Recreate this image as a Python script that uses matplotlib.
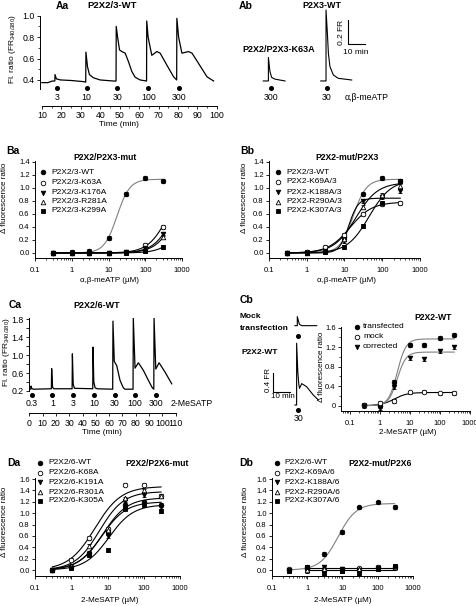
import numpy as np
import matplotlib
matplotlib.use('Agg')
import matplotlib.pyplot as plt
from matplotlib.lines import Line2D
from matplotlib.ticker import LogLocator, NullFormatter, MultipleLocator, FixedLocator

plt.rcParams['font.family'] = ['Liberation Sans', 'DejaVu Sans']
plt.rcParams['mathtext.fontset'] = 'custom'
plt.rcParams['mathtext.rm'] = 'Liberation Sans'
plt.rcParams['axes.linewidth'] = 0.7

# ---------------- data ----------------
# Aa trace: P2X2/3-WT, time (min) vs fluorescence ratio
aa_t = [9.9, 13, 15.3, 16.6, 16.7, 17.4, 19.5, 25, 31, 32.5, 32.6, 33.4, 34.4, 36.5, 39.9, 46.8,
        48.1, 48.2, 48.9, 49.9, 51.1, 52.8, 54.5, 56.2, 57.9, 60.5, 63.8,
        63.9, 64.6, 66.5, 69.1, 70.8, 74.2, 77.7, 79.3,
        79.4, 80.3, 82.0, 85.4, 87.2, 91.4, 94.9, 98.3]
aa_v = [0.375, 0.375, 0.39, 0.39, 0.45, 0.41, 0.40, 0.395, 0.385, 0.38, 0.66, 0.525, 0.45, 0.42, 0.40, 0.39,
        0.39, 0.90, 0.80, 0.68, 0.665, 0.65, 0.57, 0.48, 0.426, 0.40, 0.39,
        0.95, 0.80, 0.63, 0.665, 0.65, 0.54, 0.43, 0.40,
        0.975, 0.80, 0.65, 0.665, 0.65, 0.53, 0.43, 0.39]
aa_app_t = [17.6, 33.0, 48.7, 64.7, 80.5]
aa_app_lbl = ['3', '10', '30', '100', '300']

# Ab traces (min, FR)
ab_k63a_t = [13.7, 16.7, 16.7, 17.6, 18.6, 20.6, 26.5]
ab_k63a_v = [0.38, 0.38, 0.576, 0.46, 0.41, 0.395, 0.38]
ab_wt_t = [47.5, 50.6, 50.6, 51.4, 52.0, 52.9, 54.9, 57.8, 65.7]
ab_wt_v = [0.38, 0.38, 0.971, 0.777, 0.61, 0.50, 0.43, 0.402, 0.388]
ab_app_t = [18.2, 51.2]
ab_app_lbl = ['300', '30']

# Dose–response concentrations (µM)
conc = [0.3, 1, 3, 10, 30, 100, 300]

# Ba: P2X2/P2X3-mut (α,β-meATP)
ba_labels = ['P2X2/3-WT', 'P2X2/3-K63A', 'P2X2/3-K176A', 'P2X2/3-R281A', 'P2X2/3-K299A']
ba_wt = [0.0, 0.01, 0.03, 0.23, 0.90, 1.15, 1.11]
ba_k63a = [0.0, 0.0, 0.0, 0.0, 0.02, 0.12, 0.40]
ba_k176a = [0.0, 0.0, 0.0, 0.0, 0.01, 0.07, 0.29]
ba_r281a = [0.0, 0.0, 0.0, 0.0, 0.01, 0.05, 0.24]
ba_k299a = [0.0, 0.0, 0.0, 0.0, 0.0, 0.03, 0.09]
# fit parameters: (top, EC50, Hill)
ba_fits = [(1.13, 17, 2.5), (1.13, 420, 1.6), (1.13, 600, 1.6), (1.13, 700, 1.6), (1.13, 1400, 1.6)]

# Bb: P2X2-mut/P2X3
bb_labels = ['P2X2/3-WT', 'P2X2-K69A/3', 'P2X2-K188A/3', 'P2X2-R290A/3', 'P2X2-K307A/3']
bb_wt = [0.0, 0.01, 0.03, 0.25, 0.91, 1.15, 1.11]
bb_k69a = [0.0, 0.01, 0.09, 0.28, 0.60, 0.75, 0.77]
bb_k188a = [0.0, 0.0, 0.03, 0.18, 0.80, 0.86, 0.95]
bb_r290a = [0.0, 0.0, 0.03, 0.22, 0.70, 0.89, 1.03]
bb_k307a = [0.0, 0.0, 0.02, 0.09, 0.41, 0.76, 1.10]
bb_fits = [(1.13, 17, 2.5), (0.78, 14, 1.5), (0.84, 13, 3.5), (1.08, 20, 1.5), (1.12, 45, 1.5)]

# Ca trace: P2X2/6-WT, 2-MeSATP
ca_t = [0, 1.1, 1.3, 1.8, 3, 16.6, 16.8, 17.5, 18.5, 32.2, 32.4, 33.0, 34, 47.7, 47.9, 48.5, 49.5, 51,
        62.7, 62.9, 63.9, 65.7, 68.2, 70.7, 72, 78.0,
        78.2, 79.5, 82.0, 85.8, 89.5, 92.5, 93.6,
        93.8, 95.1, 97.6, 102.1, 107.1]
ca_v = [0.24, 0.24, 0.31, 0.26, 0.24, 0.25, 0.70, 0.28, 0.25, 0.25, 1.03, 0.35, 0.26, 0.25, 1.18, 0.40, 0.27, 0.25,
        0.24, 1.76, 0.86, 0.77, 0.44, 0.27, 0.24, 0.24,
        1.83, 0.71, 0.83, 0.66, 0.44, 0.27, 0.24,
        1.83, 0.69, 0.83, 0.62, 0.36]
ca_app_t = [1.8, 17.3, 32.6, 48.9, 64.4, 79.4, 95.0]
ca_app_lbl = ['0.3', '1', '3', '10', '30', '100', '300']

# Cb traces
cb_mock_t = [17.6, 19.0, 19.0, 20.2, 21.6, 30.4]
cb_mock_v = [0.25, 0.25, 0.44, 0.28, 0.25, 0.25]
cb_wt_t = [17.6, 18.6, 18.6, 19.3, 19.9, 20.3, 21.6, 24.5, 28.4, 31.4]
cb_wt_v = [0.25, 0.25, 1.55, 0.95, 0.68, 0.60, 0.70, 0.635, 0.46, 0.355]
# Cb dose response
cb_labels = ['transfected', 'mock', 'corrected']
cb_trans = [0.01, 0.0, 0.48, 1.25, 1.24, 1.38, 1.45]
cb_mock = [0.01, 0.05, 0.10, 0.27, 0.29, 0.25, 0.26]
cb_corr = [-0.01, -0.04, 0.38, 0.98, 0.95, 1.13, 1.20]
cb_fits = [(1.37, 3.8, 3.0), (0.27, 3.0, 2.0), (1.10, 3.8, 3.0)]

# Da: P2X2/P2X6-mut
da_labels = ['P2X2/6-WT', 'P2X2/6-K68A', 'P2X2/6-K191A', 'P2X2/6-R301A', 'P2X2/6-K305A']
da_wt = [0.0, 0.05, 0.30, 0.67, 1.14, 1.20, 1.14]
da_k68a = [0.0, 0.18, 0.56, 0.73, 1.50, 1.50, 1.31]
da_k191a = [0.0, 0.04, 0.28, 0.59, 1.22, 1.32, 1.11]
da_r301a = [0.0, 0.07, 0.42, 0.71, 1.26, 1.40, 1.30]
da_k305a = [0.0, 0.03, 0.26, 0.35, 1.08, 1.14, 1.04]
da_fits = [(1.20, 7.0, 1.3), (1.47, 4.5, 1.2), (1.27, 7.5, 1.3), (1.38, 6.0, 1.3), (1.15, 11.0, 1.3)]

# Db: P2X2-mut/P2X6
db_labels = ['P2X2/6-WT', 'P2X2-K69A/6', 'P2X2-K188A/6', 'P2X2-R290A/6', 'P2X2-K307A/6']
db_wt = [0.0, 0.05, 0.28, 0.67, 1.10, 1.19, 1.11]
db_k69a = [0.01, 0.02, 0.0, 0.02, 0.03, 0.05, 0.05]
db_k188a = [0.0, -0.02, 0.06, 0.01, 0.0, 0.03, 0.03]
db_r290a = [0.0, 0.0, 0.02, 0.0, 0.02, 0.04, 0.06]
db_k307a = [-0.02, 0.05, -0.06, -0.02, -0.06, 0.02, 0.07]
db_fits = [(1.17, 7.5, 1.7)]
db_mut_levels = [0.04, 0.0]

# ---------------- styles ----------------
MARKERS = [dict(marker='o', mfc='k'), dict(marker='o', mfc='white'),
           dict(marker='v', mfc='k'), dict(marker='^', mfc='white'), dict(marker='s', mfc='k')]
MS = 3.3
GRAY = '#808080'

W, H = 477, 606
fig = plt.figure(figsize=(W / 100, H / 100), dpi=100)


def px_axes(x0, y0, x1, y1):
    return fig.add_axes([x0 / W, 1 - y1 / H, (x1 - x0) / W, (y1 - y0) / H])


def ftext(x, y, s, **kw):
    kw.setdefault('ha', 'center')
    kw.setdefault('va', 'center')
    fig.text(x / W, 1 - y / H, s, **kw)


def fmarker(x, y, style):
    fig.add_artist(Line2D([x / W], [1 - y / H], transform=fig.transFigure, ls='none',
                          ms=MS, mec='k', mew=0.6, **style))


def hill(x, top, ec50, n):
    x = np.asarray(x, float)
    return top / (1 + (ec50 / x) ** n)


def dose_axes(box, ylim, yticks, yticklabels, xlim=(0.1, 1000), xpad=4.5, ysize=5.5, xsize=5.5):
    ax = px_axes(*box)
    ax.set_xscale('log')
    ax.set_xlim(*xlim)
    ax.set_ylim(*ylim)
    for s in ('top', 'right'):
        ax.spines[s].set_visible(False)
    ax.set_xticks([0.1, 1, 10, 100, 1000], labels=['0.1', '1', '10', '100', '1000'])
    ax.xaxis.set_minor_locator(LogLocator(base=10, subs=np.arange(2, 10), numticks=20))
    ax.xaxis.set_minor_formatter(NullFormatter())
    ax.set_yticks(yticks, labels=yticklabels)
    ax.tick_params(which='major', length=2.3, width=0.6, pad=1.5)
    ax.tick_params(axis='y', labelsize=ysize)
    ax.tick_params(axis='x', which='major', pad=xpad, labelsize=xsize)
    ax.tick_params(which='minor', length=1.3, width=0.5)
    return ax


def plot_series(ax, ys, fits, fit_colors, err=0.03, fit_x=(0.3, 300)):
    xx = np.logspace(np.log10(fit_x[0]), np.log10(fit_x[1]), 200)
    for (top, ec, n), c in zip(fits, fit_colors):
        ax.plot(xx, hill(xx, top, ec, n), color=c, lw=0.8, zorder=2)
    for y, st in zip(ys, MARKERS):
        ax.errorbar(conc, y, yerr=err, fmt='none', ecolor='k', elinewidth=0.6, capsize=1.2,
                    capthick=0.6, zorder=3)
        ax.plot(conc, y, ls='none', ms=MS, mec='k', mew=0.6, zorder=4, **st)


def legend_rows(labels, xm, xt, ys, styles=MARKERS, size=6.0):
    for lab, y, st in zip(labels, ys, styles):
        fmarker(xm, y, st)
        ftext(xt, y, lab, ha='left', fontsize=size)


PANEL = dict(fontsize=7.5, fontweight='bold')
TITLE = dict(fontsize=6.2, fontweight='bold')

# ---------------- Aa ----------------
ax = px_axes(40, 15, 220, 106)
ax.plot(aa_t, aa_v, color='k', lw=0.9)
ax.set_xlim(8.97, 101.6)
ax.set_ylim(0.157, 1.006)
for s in ('top', 'right'):
    ax.spines[s].set_visible(False)
ax.spines['left'].set_bounds(0.316, 1.0)
ax.spines['bottom'].set_bounds(10, 100)
ax.set_xticks(np.arange(10, 101, 10))
ax.xaxis.set_minor_locator(FixedLocator(np.arange(15, 100, 10)))
ax.set_yticks([0.4, 0.6, 0.8, 1.0], labels=['0.4', '0.6', '0.8', '1.0'])
ax.yaxis.set_minor_locator(FixedLocator([0.5, 0.7, 0.9]))
ax.tick_params(which='major', length=2.3, width=0.6, labelsize=6.3, pad=1.5)
ax.tick_params(which='minor', length=1.3, width=0.5)
ax.plot(aa_app_t, [0.322] * len(aa_app_t), 'ko', ms=2.6, clip_on=False)
for t, l in zip(aa_app_t, aa_app_lbl):
    ax.text(t, 0.24, l, ha='center', va='center', fontsize=6.3)
ftext(119, 125, 'Time (min)', fontsize=6.0)
ftext(13, 49, 'Fl. ratio (FR$_{340/380}$)', rotation=90, fontsize=6.0)
ftext(62, 6, 'Aa', **PANEL)
ftext(112, 6, 'P2X2/3-WT', fontsize=6.8, fontweight='bold')

# ---------------- Ab ----------------
ax = px_axes(240, 0, 477, 110)
ax.set_xlim(0, 237 / 1.7)
ax.set_ylim(0.138, 0.138 + 110 / 120)
ax.axis('off')
ax.plot(ab_k63a_t, ab_k63a_v, color='k', lw=0.8)
ax.plot(ab_wt_t, ab_wt_v, color='k', lw=0.8)
ax.plot(ab_app_t, [0.321] * 2, 'ko', ms=2.6)
for t, l in zip(ab_app_t, ab_app_lbl):
    ax.text(t, 0.246, l, ha='center', va='center', fontsize=6.3)
ax.text(61.8, 0.246, 'α,β-meATP', ha='left', va='center', fontsize=6.3)
ax.plot([63.5, 63.5, 73.5], [0.888, 0.688, 0.688], color='k', lw=0.8)
ftext(342, 32, '0.2 FR', rotation=90, fontsize=6.0)
ftext(356, 52, '10 min', fontsize=6.0)
ftext(246, 6, 'Ab', **PANEL)
ftext(322, 6, 'P2X3-WT', fontsize=6.5, fontweight='bold')
ftext(279, 50, 'P2X2/P2X3-K63A', fontsize=6.5, fontweight='bold')

# ---------------- Ba ----------------
yt = np.round(np.arange(0, 1.41, 0.2), 1)
ax = dose_axes((35, 161, 182, 258), (-0.077, 1.41), yt, ['%.1f' % v for v in yt])
plot_series(ax, [ba_wt, ba_k63a, ba_k176a, ba_r281a, ba_k299a], ba_fits, [GRAY, 'k', 'k', 'k', 'k'])
legend_rows(ba_labels, 43, 51, [172, 182.5, 192.5, 202, 211])
ftext(13, 151, 'Ba', **PANEL)
ftext(105, 157, 'P2X2/P2X3-mut', **TITLE)
ftext(110, 281, 'α,β-meATP (µM)', fontsize=5.8)
ftext(5, 198, 'Δ fluorescence ratio', rotation=90, fontsize=5.8)

# ---------------- Bb ----------------
ax = dose_axes((269, 161, 420, 258), (-0.077, 1.41), yt, ['%.1f' % v for v in yt])
plot_series(ax, [bb_wt, bb_k69a, bb_k188a, bb_r290a, bb_k307a], bb_fits, [GRAY, 'k', 'k', 'k', 'k'])
legend_rows(bb_labels, 278, 286, [172, 181.5, 192, 202, 211])
ftext(247, 151, 'Bb', **PANEL)
ftext(347, 158, 'P2X2-mut/P2X3', **TITLE)
ftext(347, 281, 'α,β-meATP (µM)', fontsize=5.8)
ftext(245, 198, 'Δ fluorescence ratio', rotation=90, fontsize=5.8)

# ---------------- Ca ----------------
ax = px_axes(29.3, 318, 176, 413.3)
ax.plot(ca_t, ca_v, color='k', lw=0.9)
ax.set_xlim(0, 110.3)
ax.set_ylim(-0.298, 1.83)
for s in ('top', 'right'):
    ax.spines[s].set_visible(False)
ax.spines['left'].set_bounds(0.2, 1.83)
ax.spines['bottom'].set_bounds(0, 110)
ax.set_xticks(np.arange(0, 111, 10))
ax.set_yticks([0.2, 0.6, 1.0, 1.4, 1.8], labels=['0.2', '0.6', '1.0', '1.4', '1.8'])
ax.yaxis.set_minor_locator(FixedLocator([0.4, 0.8, 1.2, 1.6]))
ax.tick_params(which='major', length=2.3, width=0.6, labelsize=6.3, pad=1.5)
ax.tick_params(which='minor', length=2.3, width=0.6)
ax.plot(ca_app_t, [0.117] * len(ca_app_t), 'ko', ms=2.6, clip_on=False)
for t, l in zip(ca_app_t, ca_app_lbl):
    ax.text(t, -0.09, l, ha='center', va='center', fontsize=6.3)
ftext(192, 404, '2-MeSATP', fontsize=6.3)
ftext(102, 433, 'Time (min)', fontsize=6.0)
ftext(7, 352, 'Fl. ratio (FR$_{340/380}$)', rotation=90, fontsize=6.0)
ftext(15, 305, 'Ca', **PANEL)
ftext(97, 306, 'P2X2/6-WT', fontsize=6.5, fontweight='bold')

# ---------------- Cb traces ----------------
ax = px_axes(265, 305, 335, 425)
ax.set_xlim(0, 70 / 1.7)
ax.set_ylim(-0.171, 2.355)
ax.axis('off')
mock_offset = 1.67
ax.plot(cb_mock_t, np.array(cb_mock_v) + mock_offset, color='k', lw=0.8)
ax.plot(cb_wt_t, cb_wt_v, color='k', lw=0.8)
ax.plot([19.6, 19.6], [1.709, 0.145], 'ko', ms=2.6)
ax.text(19.6, -0.03, '30', ha='center', va='center', fontsize=6.3)
ax.plot([4.7, 4.7, 14.7], [0.924, 0.524, 0.524], color='k', lw=0.8)
ftext(269, 380, '0.4 FR', rotation=90, fontsize=5.8)
ftext(283, 396.5, '10 min', fontsize=5.8)
ftext(240, 317, 'Mock', ha='left', fontsize=6.0, fontweight='bold')
ftext(240, 328, 'transfection', ha='left', fontsize=6.0, fontweight='bold')
ftext(241, 352, 'P2X2-WT', ha='left', fontsize=6.0, fontweight='bold')
ftext(247, 300, 'Cb', **PANEL)

# ---------------- Cb dose response ----------------
ax = dose_axes((341, 327, 470, 411), (-0.11, 1.615), [0, 0.4, 0.8, 1.2, 1.6],
               ['0', '0.4', '0.8', '1.2', '1.6'], xlim=(0.051, 1000), ysize=5.5)
ax.yaxis.set_minor_locator(FixedLocator([0.2, 0.6, 1.0, 1.4]))
cb_styles = [MARKERS[0], MARKERS[1], MARKERS[2]]
xx = np.logspace(np.log10(0.3), np.log10(300), 200)
for (top, ec, n), c in zip(cb_fits, [GRAY, 'k', GRAY]):
    ax.plot(xx, hill(xx, top, ec, n), color=c, lw=0.8, zorder=2)
for y, st in zip([cb_trans, cb_mock, cb_corr], cb_styles):
    ax.errorbar(conc, y, yerr=0.04, fmt='none', ecolor='k', elinewidth=0.6, capsize=1.2,
                capthick=0.6, zorder=3)
    ax.plot(conc, y, ls='none', ms=MS, mec='k', mew=0.6, zorder=4, **st)
legend_rows(cb_labels, 357, 363, [327, 337, 347], styles=cb_styles, size=6.0)
ftext(433, 318, 'P2X2-WT', **TITLE)
ftext(408, 433, '2-MeSATP (µM)', fontsize=5.8)
ftext(322, 367, 'Δ fluorescence ratio', rotation=90, fontsize=5.8)

# ---------------- Da ----------------
yt2 = np.round(np.arange(0, 1.61, 0.2), 1)
ax = dose_axes((35, 478, 180, 576), (-0.105, 1.618), yt2, ['%.1f' % v for v in yt2])
plot_series(ax, [da_wt, da_k68a, da_k191a, da_r301a, da_k305a], da_fits, ['k'] * 5)
legend_rows(da_labels, 40, 48, [463, 472.5, 482, 492, 501])
ftext(14, 463, 'Da', **PANEL)
ftext(157, 463, 'P2X2/P2X6-mut', **TITLE)
ftext(110, 601, '2-MeSATP (µM)', fontsize=5.8)
ftext(5, 522, 'Δ fluorescence ratio', rotation=90, fontsize=5.8)

# ---------------- Db ----------------
ax = dose_axes((272, 478, 413, 576), (-0.105, 1.618), yt2, ['%.1f' % v for v in yt2])
plot_series(ax, [db_wt, db_k69a, db_k188a, db_r290a, db_k307a], db_fits, [GRAY])
for lvl in db_mut_levels:
    ax.plot([1, 300], [lvl, lvl], color='k', lw=0.8, zorder=2)
legend_rows(db_labels, 277, 284, [463, 472.5, 482, 492, 501])
ftext(246, 463, 'Db', **PANEL)
ftext(380, 463, 'P2X2-mut/P2X6', **TITLE)
ftext(343, 601, '2-MeSATP (µM)', fontsize=5.8)
ftext(246, 522, 'Δ fluorescence ratio', rotation=90, fontsize=5.8)

fig.savefig('out.png', dpi=100)
